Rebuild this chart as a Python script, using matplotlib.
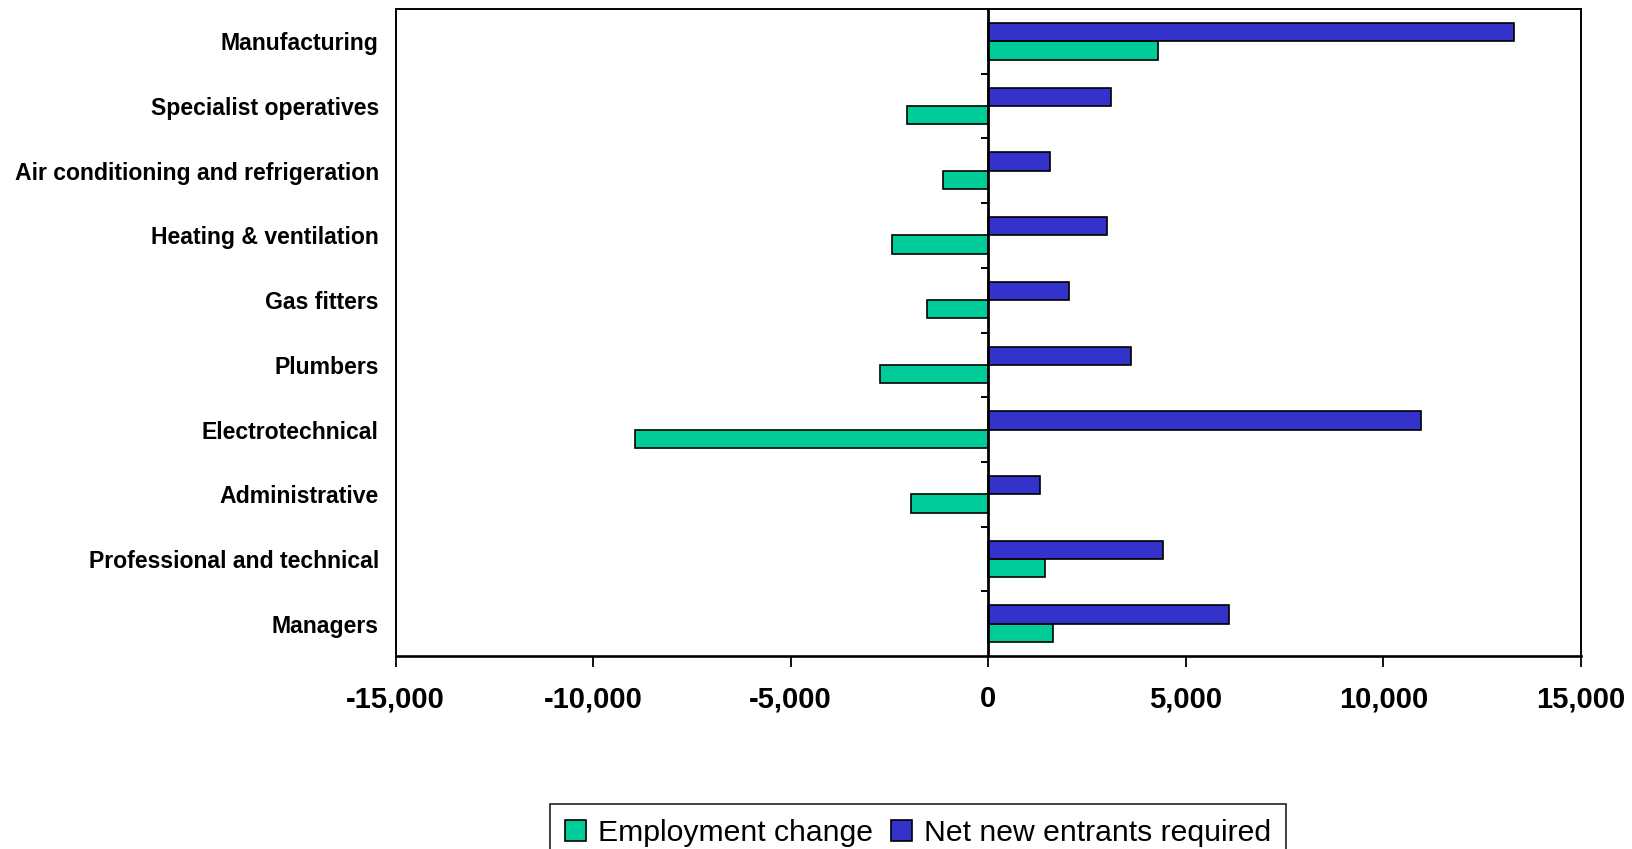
import matplotlib
matplotlib.use("Agg")
import matplotlib.pyplot as plt
from matplotlib.ticker import FuncFormatter, FixedLocator
import numpy as np

# Occupational groups, listed bottom to top
categories = [
    "Managers",
    "Professional and technical",
    "Administrative",
    "Electrotechnical",
    "Plumbers",
    "Gas fitters",
    "Heating & ventilation",
    "Air conditioning and refrigeration",
    "Specialist operatives",
    "Manufacturing",
]
employment_change = [1640, 1440, -1960, -8950, -2730, -1550, -2430, -1150, -2050, 4300]
net_new_entrants = [6100, 4430, 1300, 10950, 3600, 2050, 3000, 1550, 3100, 13300]
x_ticks = [-15000, -10000, -5000, 0, 5000, 10000, 15000]

GREEN = "#00CC99"
BLUE = "#3333CC"
FONT = ["Liberation Sans", "DejaVu Sans"]

fig = plt.figure(figsize=(16.32, 8.49), dpi=100)
ax = fig.add_axes([395.5 / 1632, 1 - 656 / 849, (1581 - 395.5) / 1632, (656 - 9) / 849])

y = np.arange(len(categories))
h = 0.283
ax.barh(y - h / 2, employment_change, height=h, color=GREEN, edgecolor="black",
        linewidth=1.2, label="Employment change", zorder=3)
ax.barh(y + h / 2, net_new_entrants, height=h, color=BLUE, edgecolor="black",
        linewidth=1.2, label="Net new entrants required", zorder=3)

ax.set_xlim(x_ticks[0], x_ticks[-1])
ax.set_ylim(-0.5, len(categories) - 0.5)

# Category labels on the left, no tick marks there
ax.set_yticks(y)
ax.set_yticklabels(categories, fontsize=16.6, fontweight="bold", family=FONT)
ax.tick_params(axis="y", length=0, pad=12)

# Value axis
ax.xaxis.set_major_locator(FixedLocator(x_ticks))
ax.xaxis.set_major_formatter(FuncFormatter(lambda v, p: f"{int(v):,}"))
for lbl in ax.get_xticklabels():
    lbl.set_family(FONT)
    lbl.set_fontweight("bold")
    lbl.set_fontsize(21)
ax.tick_params(axis="x", direction="out", length=8, width=1.3, pad=13)

for side in ["top", "left", "right"]:
    ax.spines[side].set_linewidth(1.4)
ax.spines["bottom"].set_linewidth(1.9)

# Category axis crossing at zero, with divider ticks between groups
sec = ax.secondary_yaxis(0.5)
sec.set_alignment("left")
sec.set_yticks(np.arange(len(categories) - 1) + 0.5)
sec.set_yticklabels([])
sec.tick_params(length=5, width=1.4, direction="out")
sec.spines["left"].set_linewidth(2)
sec.set_zorder(4)

leg = fig.legend(loc="upper center", bbox_to_anchor=(918 / 1632, 1 - 804 / 849),
                 ncol=2, frameon=True, fancybox=False, edgecolor="black",
                 prop={"family": FONT, "size": 21.7},
                 handlelength=0.7, handleheight=0.7, handletextpad=0.4,
                 columnspacing=0.6, borderpad=0.5, borderaxespad=0)
leg.get_frame().set_linewidth(1.3)

fig.savefig("out.png", dpi=100)
